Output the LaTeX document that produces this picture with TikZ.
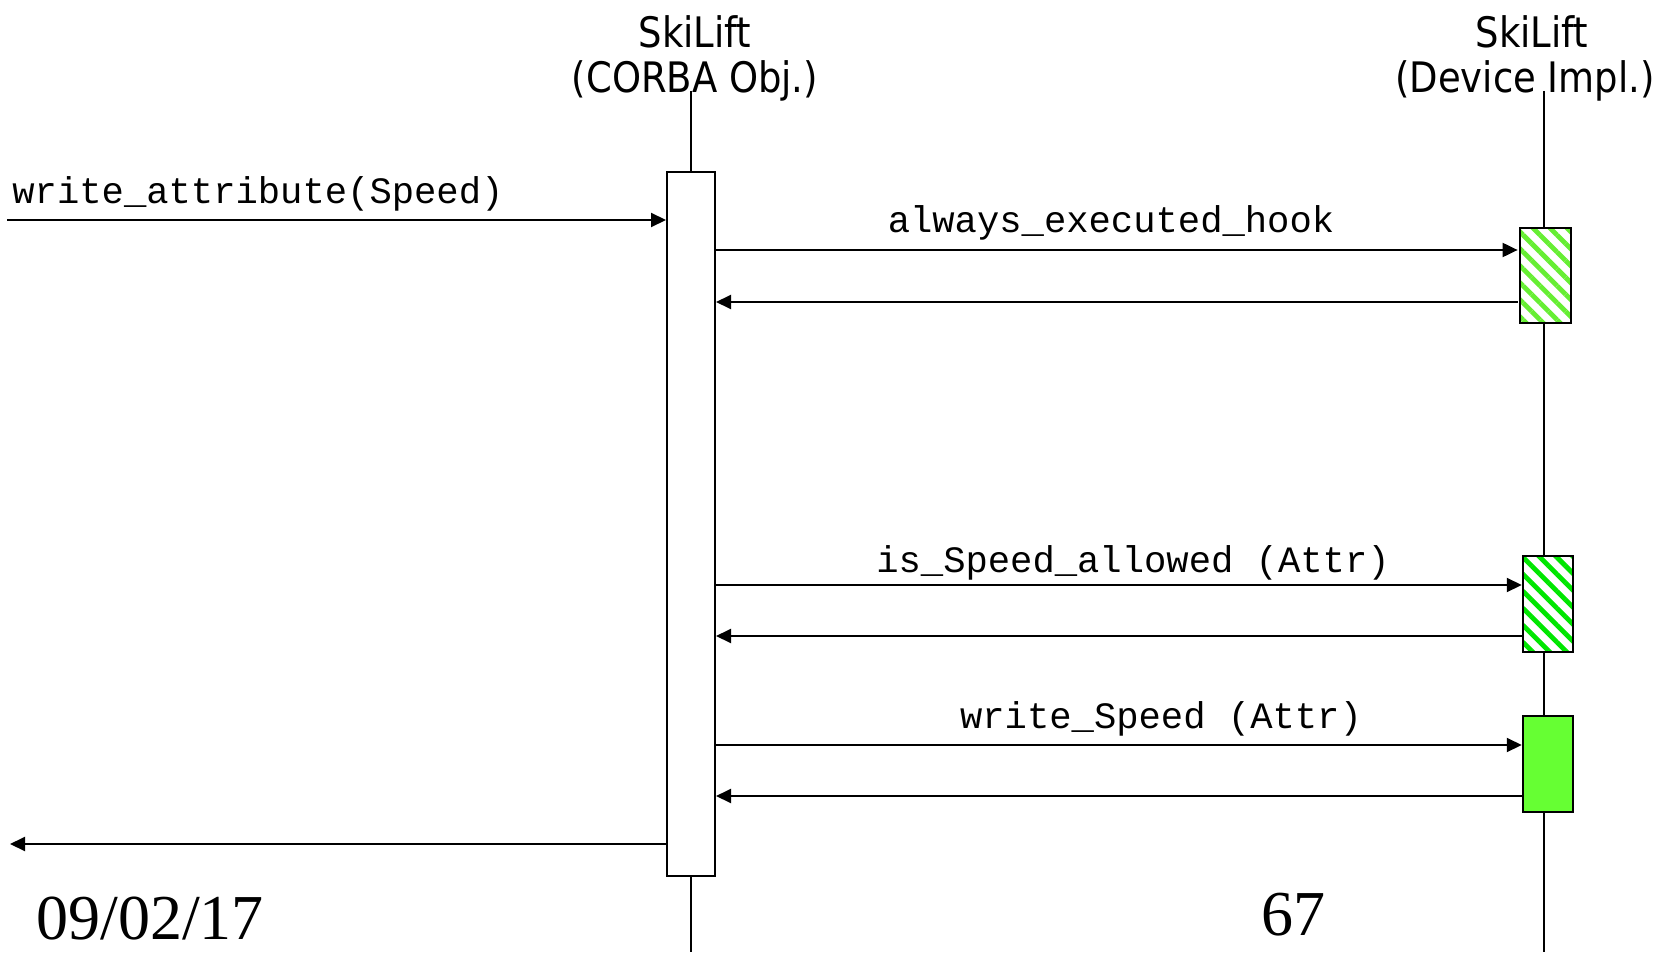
\documentclass[tikz,border=0pt]{standalone}
\usepackage{fontspec}
\setmainfont{Liberation Serif}
\newfontfamily\titlefont{DejaVu Sans}[FakeStretch=0.88]
\newfontfamily\msgfont{Liberation Mono}
\usetikzlibrary{arrows.meta,patterns.meta}
\definecolor{hatchA}{RGB}{102,238,51}
\definecolor{hatchB}{RGB}{0,230,0}
\definecolor{solidG}{RGB}{102,255,51}
\tikzset{
  lifeline/.style={line width=0.9pt},
  msg/.style={line width=1pt,-{Triangle[length=7.5pt,width=7pt]}},
  actbox/.style={draw,line width=1pt,fill=white,inner sep=0pt},
  implbox/.style={draw,line width=1.25pt,inner sep=0pt,minimum width=25pt,minimum height=48pt},
  hatchA box/.style={implbox,preaction={fill=white},pattern={Lines[angle=-45,distance=6pt,line width=2.4pt]},pattern color=hatchA},
  hatchB box/.style={implbox,preaction={fill=white},pattern={Lines[angle=-45,distance=6pt,line width=2.4pt]},pattern color=hatchB},
  solid box/.style={implbox,fill=solidG},
  title/.style={font=\titlefont\fontsize{21pt}{25pt}\selectfont,anchor=base,inner sep=0pt},
  lbl/.style={font=\msgfont\fontsize{18.6pt}{22pt}\selectfont,anchor=base,inner sep=0pt},
  foot/.style={font=\fontsize{32pt}{36pt}\selectfont,anchor=base west,inner sep=0pt}
}
\begin{document}
\begin{tikzpicture}[x=0.5pt,y=-0.5pt]
\useasboundingbox (0,0) rectangle (1663,952);
% titles
\node[title] (t1a) at (695,48) {SkiLift};
\node[title] (t1b) at (695,93) {(CORBA Obj.)};
\node[title] (t2a) at (1532,48) {SkiLift};
\node[title] (t2b) at (1525,93) {(Device Impl.)};
% lifelines
\coordinate (l1top) at (691,91);
\coordinate (l1bot) at (691,952);
\coordinate (l2top) at (1544,91);
\coordinate (l2bot) at (1544,952);
\draw[lifeline] (l1top) -- (l1bot);
\draw[lifeline] (l2top) -- (l2bot);
% activation boxes
\node[actbox,minimum width=24pt,minimum height=352pt] (act1) at (691,524) {};
\node[hatchA box,minimum width=25.5pt,minimum height=47.5pt] (h1) at (1545.5,275.5) {};
\node[hatchB box] (h2) at (1548,604) {};
\node[solid box] (s3) at (1548,764) {};
% messages
\coordinate (cin) at (7,220);
\coordinate (cout) at (10,844);
\draw[msg] (cin) -- (act1.west |- cin);
\node[lbl,anchor=base west] (lin) at (12,204) {write\_attribute(Speed)};

\coordinate (y2) at (0,250);
\draw[msg] (act1.east |- y2) -- (h1.west |- y2);
\node[lbl] (l2) at (1111,233) {always\_executed\_hook};
\coordinate (y2r) at (0,302);
\draw[msg] (h1.west |- y2r) -- (act1.east |- y2r);

\coordinate (y3) at (0,585);
\draw[msg] (act1.east |- y3) -- (h2.west |- y3);
\node[lbl] (l3) at (1133,572) {is\_Speed\_allowed (Attr)};
\coordinate (y3r) at (0,636);
\draw[msg] (h2.west |- y3r) -- (act1.east |- y3r);

\coordinate (y4) at (0,745);
\draw[msg] (act1.east |- y4) -- (s3.west |- y4);
\node[lbl] (l4) at (1161,728) {write\_Speed (Attr)};
\coordinate (y4r) at (0,796);
\draw[msg] (s3.west |- y4r) -- (act1.east |- y4r);

\draw[msg] (act1.west |- cout) -- (cout);
% footer
\node[foot] (date) at (36,939) {09/02/17};
\node[foot] (page) at (1261,935) {67};
\end{tikzpicture}
\end{document}
